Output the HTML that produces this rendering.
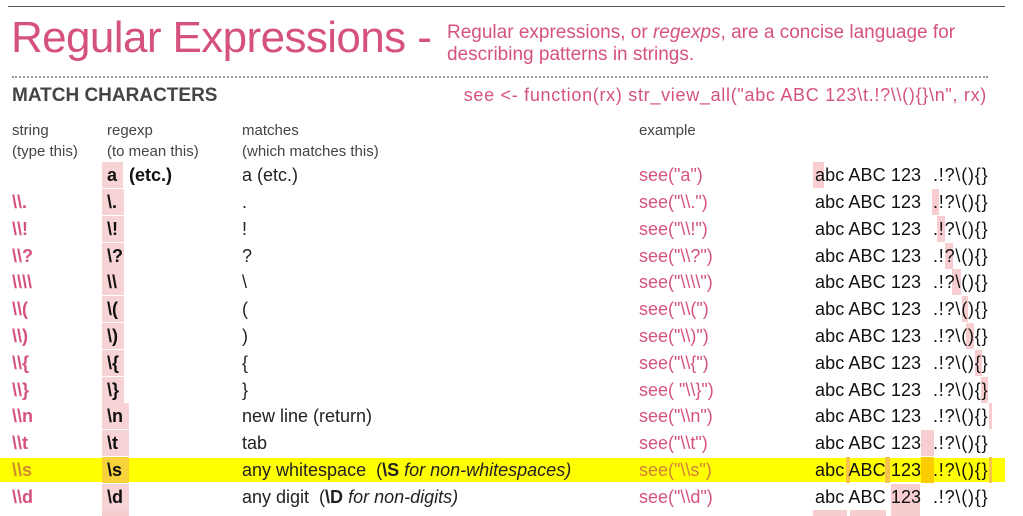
<!DOCTYPE html>
<html><head><meta charset="utf-8"><style>
body{margin:0;width:1023px;height:514px;background:#fff;position:relative;overflow:hidden;font-family:"Liberation Sans",sans-serif;}
.a{position:absolute;white-space:nowrap;}
.pk{color:#d6527e;}
.row{position:absolute;left:0;width:1023px;height:26px;line-height:26px;font-size:18px;}
.row span{position:absolute;white-space:nowrap;}
.s{left:12px;color:#d6527e;font-weight:bold;}
.r{left:102px;height:26px;background:#f8d3d6;font-weight:bold;color:#111;padding-left:5px;box-sizing:border-box;}
.m{left:242px;color:#222;}
.e{left:639px;color:#d6527e;}
.x{left:815px;color:#111;letter-spacing:0.1px;}
.y{left:933px;color:#111;letter-spacing:0.8px;}
.h{position:absolute;background:#f8cdd0;}
</style></head><body>
<div class="a" style="left:8px;top:6px;width:997px;height:1px;background:#555"></div>
<div class="a pk" style="left:11px;top:12px;font-size:44px;line-height:52px;letter-spacing:-0.6px">Regular Expressions -</div>
<div class="a pk" style="left:447px;top:22px;font-size:19px;line-height:22px">Regular expressions, or <i>regexps</i>, are a concise language for<br>describing patterns in strings.</div>
<div class="a" style="left:12px;top:76px;width:976px;border-top:2px dotted #999"></div>
<div class="a" style="left:12px;top:85px;font-size:19px;font-weight:bold;color:#444">MATCH CHARACTERS</div>
<div class="a pk" style="right:36px;top:85px;font-size:18px;letter-spacing:0.7px">see &lt;- function(rx) str_view_all("abc ABC 123\t.!?\\(){}\n", rx)</div>
<div class="a" style="left:12px;top:120px;font-size:15px;line-height:21px;color:#444">string<br>(type this)</div>
<div class="a" style="left:107px;top:120px;font-size:15px;line-height:21px;color:#444">regexp<br>(to mean this)</div>
<div class="a" style="left:242px;top:120px;font-size:15px;line-height:21px;color:#444">matches<br>(which matches this)</div>
<div class="a" style="left:639px;top:120px;font-size:15px;line-height:21px;color:#444">example</div>

<div class="a" style="left:0;top:458px;width:1005px;height:24px;background:#ffff00"></div>

<div class="h" style="left:813px;top:162px;width:11px;height:26px"></div>
<div class="h" style="left:932px;top:189px;width:7px;height:26px"></div>
<div class="h" style="left:937px;top:216px;width:8px;height:26px"></div>
<div class="h" style="left:945px;top:243px;width:8px;height:26px"></div>
<div class="h" style="left:952px;top:269px;width:9px;height:26px"></div>
<div class="h" style="left:962px;top:296px;width:6px;height:26px"></div>
<div class="h" style="left:966px;top:323px;width:8px;height:26px"></div>
<div class="h" style="left:975px;top:350px;width:7px;height:26px"></div>
<div class="h" style="left:981px;top:377px;width:7px;height:26px"></div>
<div class="h" style="left:989px;top:403px;width:3px;height:26px"></div>
<div class="h" style="left:921px;top:430px;width:13px;height:26px"></div>
<div class="h" style="left:846px;top:457px;width:4px;height:26px;background:#f6c34a"></div>
<div class="h" style="left:885px;top:457px;width:5px;height:26px;background:#f6c34a"></div>
<div class="h" style="left:921px;top:457px;width:13px;height:26px;background:#fbcc00"></div>
<div class="h" style="left:989px;top:457px;width:3px;height:26px;background:#f6c34a"></div>
<div class="h" style="left:891px;top:484px;width:29px;height:26px"></div>
<div class="h" style="left:813px;top:510px;width:34px;height:6px"></div>
<div class="h" style="left:850px;top:510px;width:36px;height:6px"></div>
<div class="h" style="left:891px;top:510px;width:29px;height:6px"></div>
<div class="h" style="left:102px;top:510px;width:27px;height:6px"></div>

<div class="row" style="top:162px"><span class="r" style="width:21px">a</span><span style="left:129px;font-weight:bold;color:#111">(etc.)</span><span class="m">a (etc.)</span><span class="e">see("a")</span><span class="x">abc ABC 123</span><span class="y">.!?\(){}</span></div>
<div class="row" style="top:189px"><span class="s">\\.</span><span class="r" style="width:22px">\.</span><span class="m">.</span><span class="e">see("\\.")</span><span class="x">abc ABC 123</span><span class="y">.!?\(){}</span></div>
<div class="row" style="top:216px"><span class="s">\\!</span><span class="r" style="width:22px">\!</span><span class="m">!</span><span class="e">see("\\!")</span><span class="x">abc ABC 123</span><span class="y">.!?\(){}</span></div>
<div class="row" style="top:243px"><span class="s">\\?</span><span class="r" style="width:22px">\?</span><span class="m">?</span><span class="e">see("\\?")</span><span class="x">abc ABC 123</span><span class="y">.!?\(){}</span></div>
<div class="row" style="top:269px"><span class="s">\\\\</span><span class="r" style="width:22px">\\</span><span class="m">\</span><span class="e">see("\\\\")</span><span class="x">abc ABC 123</span><span class="y">.!?\(){}</span></div>
<div class="row" style="top:296px"><span class="s">\\(</span><span class="r" style="width:22px">\(</span><span class="m">(</span><span class="e">see("\\(")</span><span class="x">abc ABC 123</span><span class="y">.!?\(){}</span></div>
<div class="row" style="top:323px"><span class="s">\\)</span><span class="r" style="width:22px">\)</span><span class="m">)</span><span class="e">see("\\)")</span><span class="x">abc ABC 123</span><span class="y">.!?\(){}</span></div>
<div class="row" style="top:350px"><span class="s">\\{</span><span class="r" style="width:22px">\{</span><span class="m">{</span><span class="e">see("\\{")</span><span class="x">abc ABC 123</span><span class="y">.!?\(){}</span></div>
<div class="row" style="top:377px"><span class="s">\\}</span><span class="r" style="width:22px">\}</span><span class="m">}</span><span class="e">see( "\\}")</span><span class="x">abc ABC 123</span><span class="y">.!?\(){}</span></div>
<div class="row" style="top:403px"><span class="s">\\n</span><span class="r" style="width:27px">\n</span><span class="m">new line (return)</span><span class="e">see("\\n")</span><span class="x">abc ABC 123</span><span class="y">.!?\(){}</span></div>
<div class="row" style="top:430px"><span class="s">\\t</span><span class="r" style="width:27px">\t</span><span class="m">tab</span><span class="e">see("\\t")</span><span class="x">abc ABC 123</span><span class="y">.!?\(){}</span></div>
<div class="row" style="top:457px"><span class="s" style="color:#d08a30">\\s</span><span class="r" style="width:27px;background:#f7d23a">\s</span><span class="m">any whitespace &nbsp;(<b>\S</b> <i>for non-whitespaces)</i></span><span class="e" style="color:#d0803a">see("\\s")</span><span class="x">abc ABC 123</span><span class="y">.!?\(){}</span></div>
<div class="row" style="top:484px"><span class="s">\\d</span><span class="r" style="width:27px">\d</span><span class="m">any digit &nbsp;(<b>\D</b> <i>for non-digits)</i></span><span class="e">see("\\d")</span><span class="x">abc ABC 123</span><span class="y">.!?\(){}</span></div>
</body></html>
